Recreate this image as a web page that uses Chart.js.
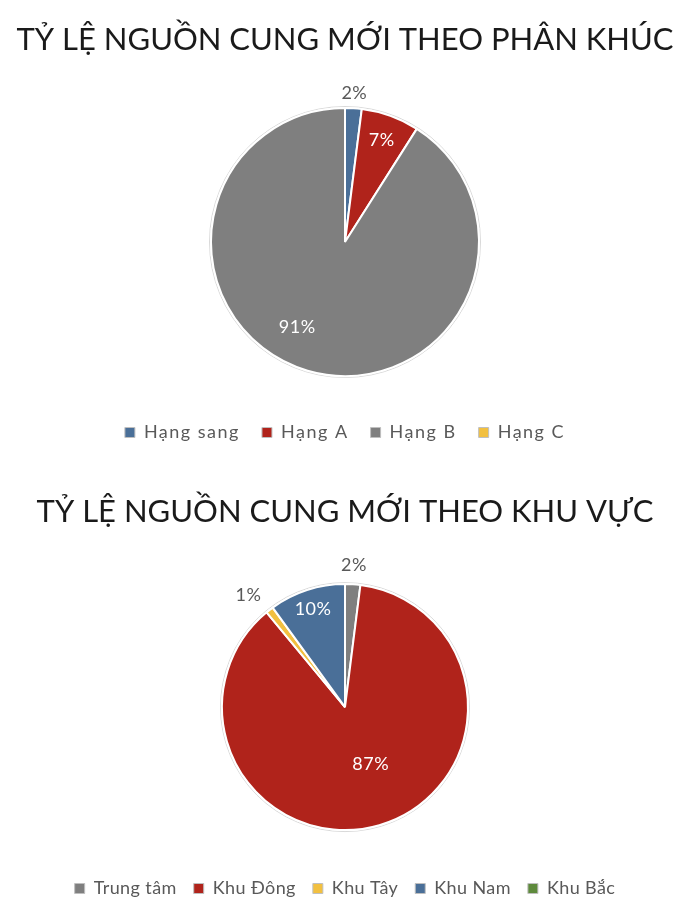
<!DOCTYPE html>
<html>
<head>
<meta charset="utf-8">
<script src="https://cdn.jsdelivr.net/npm/chart.js@4"></script>
<style>
  html, body { margin: 0; padding: 0; background: #ffffff; }
  .box { position: absolute; left: 0; width: 678px; height: 460px; }
</style>
</head>
<body>
<div class="box" style="top:0"><canvas id="c1" width="678" height="460"></canvas></div>
<div class="box" style="top:460px"><canvas id="c2" width="678" height="460"></canvas></div>
<script>
// ---- Data ----
const title1 = 'TỶ LỆ NGUỒN CUNG MỚI THEO PHÂN KHÚC';
const segments = ['Hạng sang', 'Hạng A', 'Hạng B', 'Hạng C'];
const segmentShares = [2, 7, 91, 0];

const title2 = 'TỶ LỆ NGUỒN CUNG MỚI THEO KHU VỰC';
const regions = ['Trung tâm', 'Khu Đông', 'Khu Tây', 'Khu Nam', 'Khu Bắc'];
const regionShares = [2, 87, 1, 10, 0];

// ---- Styles ----
const colors1 = ['#4a6f98', '#b0231b', '#7f7f7f', '#f2c040'];
const colors2 = ['#7f7f7f', '#b0231b', '#f2c040', '#4a6f98', '#5e8a3c'];
const FONT = 'Lato, "Noto Sans", sans-serif';

// draws the percentage labels and a faint outline around the pie
const pieLabels = {
  id: 'pieLabels',
  beforeDatasetsDraw(chart) {
    const meta = chart.getDatasetMeta(0);
    const arc = meta.data[0];
    if (!arc) return;
    const p = arc.getProps(['x', 'y', 'outerRadius'], true);
    const ctx = chart.ctx;
    ctx.save();
    ctx.strokeStyle = '#d9d9d9';
    ctx.lineWidth = 1;
    ctx.beginPath();
    ctx.arc(p.x, p.y, p.outerRadius + 1.5, 0, Math.PI * 2);
    ctx.stroke();
    ctx.restore();
  },
  afterDatasetsDraw(chart, args, opts) {
    const ctx = chart.ctx;
    const meta = chart.getDatasetMeta(0);
    const ds = chart.data.datasets[0];
    meta.data.forEach((arc, i) => {
      const v = ds.data[i];
      if (!v) return;
      const p = arc.getProps(['x', 'y', 'startAngle', 'endAngle', 'outerRadius'], true);
      const f = opts.radius[i];
      const a = (p.startAngle + p.endAngle) / 2 + ((opts.nudge && opts.nudge[i]) || 0) * Math.PI / 180;
      const px = p.x + Math.cos(a) * p.outerRadius * f;
      const py = p.y + Math.sin(a) * p.outerRadius * f;
      ctx.save();
      ctx.font = '18px ' + FONT;
      ctx.letterSpacing = '0.5px';
      ctx.fillStyle = f > 1 ? '#595959' : '#ffffff';
      ctx.textAlign = 'center';
      ctx.textBaseline = 'middle';
      ctx.fillText(v + '%', px, py);
      ctx.restore();
    });
  }
};

// wider letter spacing for the legend text only
const legendSpacing = {
  id: 'legendSpacing',
  beforeLayout(chart, args, opts) {
    chart.ctx.letterSpacing = opts.spacing;
  },
  afterLayout(chart) {
    chart.ctx.letterSpacing = '0px';
    const lg = chart.legend;
    if (lg && !lg._spacingWrapped) {
      const orig = lg.draw;
      const sp = chart.options.plugins.legendSpacing.spacing;
      lg.draw = function () {
        const c = chart.ctx;
        c.save();
        c.letterSpacing = sp;
        orig.apply(this, arguments);
        c.restore();
        c.letterSpacing = '0px';
      };
      lg._spacingWrapped = true;
    }
  }
};

function makePie(id, title, labels, values, colors, cfg) {
  return new Chart(document.getElementById(id), {
    type: 'pie',
    data: {
      labels: labels,
      datasets: [{
        data: values,
        backgroundColor: colors,
        borderColor: '#ffffff',
        borderWidth: 2,
        radius: cfg.r
      }]
    },
    plugins: [pieLabels, legendSpacing],
    options: {
      responsive: false,
      animation: false,
      events: [],
      layout: { padding: { left: 12, right: 0, top: 0, bottom: cfg.padBottom } },
      plugins: {
        tooltip: { enabled: false },
        title: {
          display: true,
          text: title,
          color: '#1a1a1a',
          font: { family: FONT, size: 31, weight: 'normal', lineHeight: 1.2 },
          padding: { top: cfg.titleTop, bottom: cfg.titleBottom }
        },
        subtitle: {
          display: true,
          position: 'bottom',
          weight: 500,
          text: ' ',
          font: { size: 1, lineHeight: 1 },
          padding: { top: 0, bottom: cfg.spacer }
        },
        legend: {
          display: true,
          position: 'bottom',
          labels: {
            color: '#595959',
            font: { family: FONT, size: cfg.legendSize },
            boxWidth: 10,
            boxHeight: 10,
            padding: cfg.legendPad,
            generateLabels(chart) {
              const ds = chart.data.datasets[0];
              return chart.data.labels.map((l, i) => ({
                text: l,
                fillStyle: ds.backgroundColor[i],
                strokeStyle: '#bfbfbf',
                lineWidth: 1,
                fontColor: '#595959',
                hidden: false,
                index: i
              }));
            }
          }
        },
        legendSpacing: { spacing: cfg.letterSpacing },
        pieLabels: cfg.labels
      }
    }
  });
}

makePie('c1', title1, segments, segmentShares, colors1, {
  r: 134, padBottom: 8.5, titleTop: 21, titleBottom: 49, spacer: 23.7,
  legendSize: 18, legendPad: 22, letterSpacing: '1.5px',
  labels: { radius: [1.11, 0.81, 0.73, 0], nudge: [0, 0, 13, 0] }
});

makePie('c2', title2, regions, regionShares, colors2, {
  r: 123, padBottom: 12.5, titleTop: 33, titleBottom: 38, spacer: 15.5,
  legendSize: 18, legendPad: 17, letterSpacing: '0.4px',
  labels: { radius: [1.16, 0.51, 1.2, 0.84, 0], nudge: [0, -8, -3, 0, 0] }
});
</script>
</body>
</html>
